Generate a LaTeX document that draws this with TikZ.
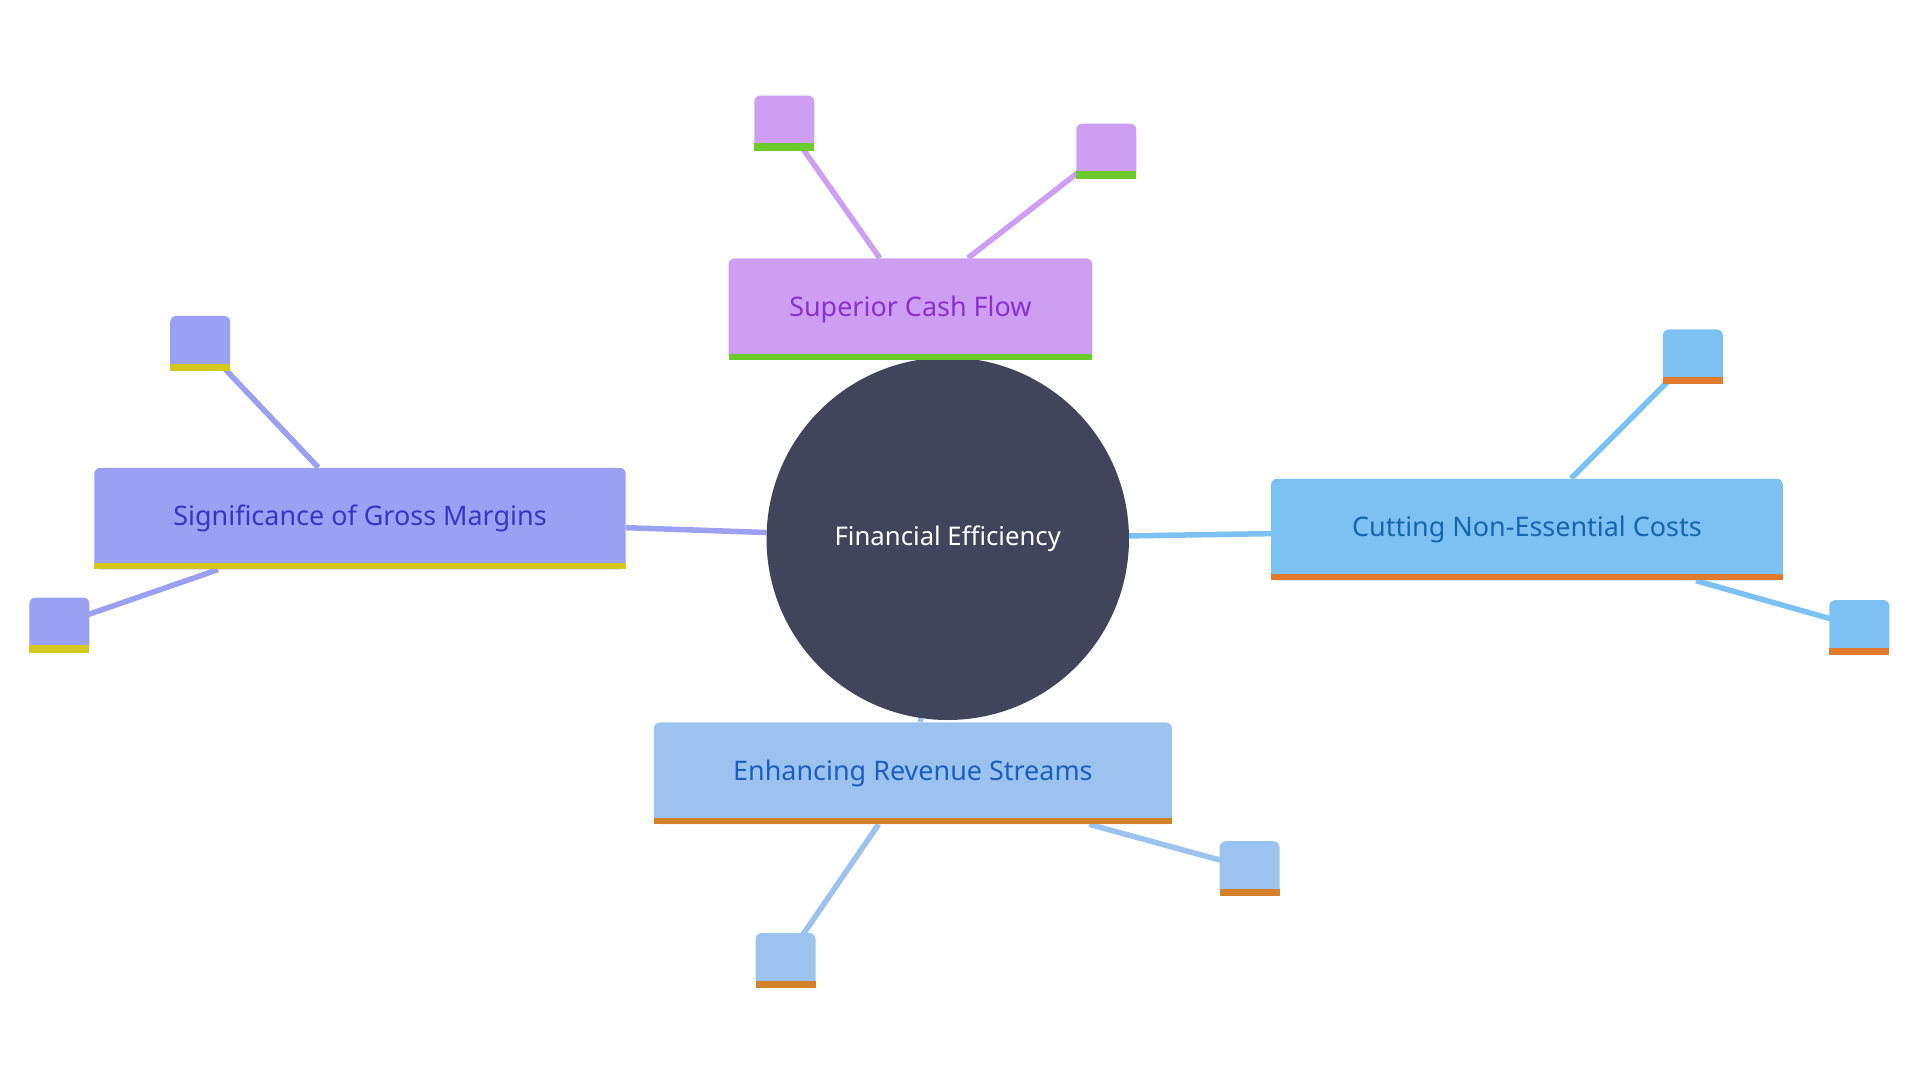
\documentclass[tikz,border=0pt]{standalone}
\usepackage{fontspec}
\setmainfont{Noto Sans}
\usetikzlibrary{backgrounds}
\definecolor{hubc}{HTML}{40455C}
\definecolor{cashf}{HTML}{CE9EF2}\definecolor{cashb}{HTML}{6CCB2A}\definecolor{casht}{HTML}{8B2FD0}
\definecolor{grossf}{HTML}{9BA0F2}\definecolor{grossb}{HTML}{D4C81E}\definecolor{grosst}{HTML}{3A33C8}
\definecolor{costf}{HTML}{7DC1F2}\definecolor{costb}{HTML}{E07B2E}\definecolor{costt}{HTML}{1565B0}
\definecolor{revf}{HTML}{9CC2EF}\definecolor{revb}{HTML}{D4822A}\definecolor{revt}{HTML}{1A5FC0}
\tikzset{
  topic/.style = {rounded corners=5pt, inner sep=0pt, font=\fontsize{22}{26}\selectfont},
  link/.style = {line width=4.5pt},
}
% leaf box: name, left, top, fill, bar
\newcommand{\leafbox}[5]{
  \fill[#4, rounded corners=5pt] (#2,#3) rectangle ++(49,44);
  \fill[#5] (#2,#3+39) rectangle ++(49,6);
  \coordinate (#1) at (#2+24.5,#3+22);
}
\begin{document}
\begin{tikzpicture}[x=1pt,y=-1pt]
	\useasboundingbox (0,0) rectangle (1568,882);
	% hub
	\node[circle, fill=hubc, minimum size=296pt, text=white, font=\fontsize{21}{25}\selectfont] (hub) at (774,440) {Financial Efficiency};
	% topics
	\node[topic, fill=cashf, text=casht, minimum width=297pt, minimum height=83pt] (cash) at (743.5,252.5) {Superior Cash Flow};
	\fill[cashb] (595,289) rectangle (892,294);
	\node[topic, fill=grossf, text=grosst, minimum width=434pt, minimum height=83pt] (gross) at (294,423.5) {Significance of Gross Margins};
	\fill[grossb] (77,460) rectangle (511,465);
	\node[topic, fill=costf, text=costt, minimum width=418pt, minimum height=83pt] (cost) at (1247,432.5) {Cutting Non-Essential Costs};
	\fill[costb] (1038,469) rectangle (1456,474);
	\node[topic, fill=revf, text=revt, minimum width=423pt, minimum height=83pt] (rev) at (745.5,631.5) {Enhancing Revenue Streams};
	\fill[revb] (534,668) rectangle (957,673);
	% leaves
	\leafbox{cashA}{616}{78}{cashf}{cashb}
	\leafbox{cashB}{879}{101}{cashf}{cashb}
	\leafbox{grossA}{139}{258}{grossf}{grossb}
	\leafbox{grossB}{24}{488}{grossf}{grossb}
	\leafbox{costA}{1358}{269}{costf}{costb}
	\leafbox{costB}{1494}{490}{costf}{costb}
	\leafbox{revA}{617}{762}{revf}{revb}
	\leafbox{revB}{996}{687}{revf}{revb}
	\begin{pgfonlayer}{background}
		\draw[link, cashf] (hub) -- (cash);
		\draw[link, cashf] ([xshift=-25pt]cash.north) -- (cashA);
		\draw[link, cashf] ([xshift=47pt]cash.north) -- (cashB);
		\draw[link, grossf] (hub) -- (gross);
		\draw[link, grossf] ([xshift=-34pt]gross.north) -- (grossA);
		\draw[link, grossf] ([xshift=-116pt]gross.south) -- (grossB);
		\draw[link, costf] (hub) -- (cost);
		\draw[link, costf] ([xshift=36pt]cost.north) -- (costA);
		\draw[link, costf] ([xshift=138pt]cost.south) -- (costB);
		\draw[link, revf] (hub) -- (rev);
		\draw[link, revf] ([xshift=-28pt]rev.south) -- (revA);
		\draw[link, revf] ([xshift=144pt]rev.south) -- (revB);
	\end{pgfonlayer}
\end{tikzpicture}
\end{document}
